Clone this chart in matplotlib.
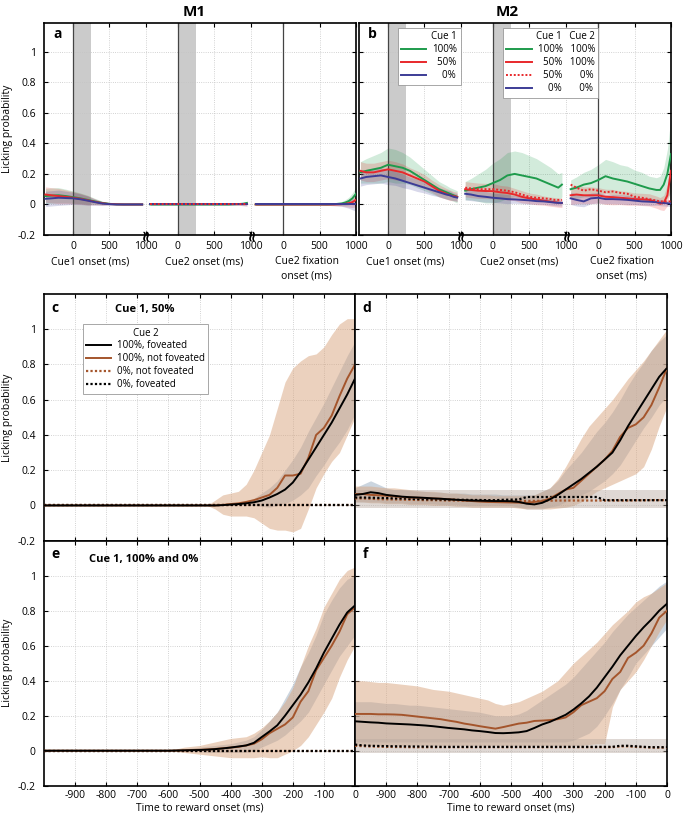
import numpy as np
import matplotlib.pyplot as plt
from matplotlib.lines import Line2D
from matplotlib.transforms import blended_transform_factory

plt.rcParams["font.family"] = ["Open Sans", "DejaVu Sans"]
plt.rcParams["font.size"] = 7
plt.rcParams["axes.unicode_minus"] = False

# ---------------- DATA: top panels (a = M1, b = M2) ----------------
# time (ms) inside each window: Cue1 onset, Cue2 onset, Cue2 fixation onset
seg_t = [-380, -300, -200, -100, 0, 100, 200, 300, 400, 500, 600, 700, 800, 850, 900, 950]
fix_t = [-380, -300, -200, -100, 0, 100, 200, 300, 400, 500, 600, 700, 800, 850, 900, 950, 1000]

# M1
m1_cue1_green = [0.055, 0.058, 0.06, 0.055, 0.048, 0.04, 0.03, 0.02, 0.01, 0.004, 0.001, 0, 0, 0, 0, 0]
m1_cue1_red = [0.065, 0.06, 0.055, 0.05, 0.044, 0.037, 0.027, 0.017, 0.008, 0.003, 0.001, 0, 0, 0, 0, 0]
m1_cue1_blue = [0.037, 0.04, 0.044, 0.042, 0.04, 0.034, 0.025, 0.015, 0.006, 0.002, 0, 0, 0, 0, 0, 0]
m1_cue1_hw = [0.05, 0.05, 0.05, 0.045, 0.04, 0.035, 0.03, 0.02, 0.012, 0.006, 0.003, 0.002, 0.002, 0.002, 0.002, 0.002]

m1_cue2_green = [0, 0, 0, 0, 0, 0, 0, 0, 0, 0, 0, 0, 0.002, 0.003, 0.005, 0.01]
m1_cue2_red = [0, 0, 0, 0, 0, 0, 0, 0, 0, 0, 0, 0, 0, 0, 0, 0]
m1_cue2_reddot = [0, 0, 0, 0, 0, 0, 0, 0, 0, 0, 0, 0, 0, 0, 0, 0]
m1_cue2_blue = [0, 0, 0, 0, 0, 0, 0, 0, 0, 0, 0, 0, 0, 0, 0, 0]
m1_cue2_hw = [0.004, 0.004, 0.004, 0.004, 0.004, 0.004, 0.004, 0.004, 0.004, 0.004, 0.004, 0.004, 0.005, 0.006, 0.008, 0.01]

m1_fix_green = [0, 0, 0, 0, 0, 0, 0, 0, 0, 0, 0, 0.002, 0.006, 0.012, 0.022, 0.04, 0.07]
m1_fix_red = [0, 0, 0, 0, 0, 0, 0, 0, 0, 0, 0, 0, 0.002, 0.004, 0.008, 0.015, 0.03]
m1_fix_reddot = [0, 0, 0, 0, 0, 0, 0, 0, 0, 0, 0, 0, 0, 0, 0, 0, 0]
m1_fix_blue = [0, 0, 0, 0, 0, 0, 0, 0, 0, 0, 0, 0, 0, 0, 0, 0, 0]
m1_fix_hw = [0.005, 0.005, 0.005, 0.005, 0.005, 0.005, 0.005, 0.005, 0.005, 0.005, 0.006, 0.008, 0.012, 0.018, 0.025, 0.035, 0.045]

# M2
m2_cue1_green = [0.21, 0.22, 0.23, 0.24, 0.26, 0.25, 0.24, 0.22, 0.19, 0.16, 0.13, 0.10, 0.08, 0.07, 0.06, 0.05]
m2_cue1_red = [0.22, 0.21, 0.21, 0.22, 0.23, 0.22, 0.21, 0.19, 0.17, 0.15, 0.12, 0.09, 0.07, 0.06, 0.055, 0.05]
m2_cue1_blue = [0.17, 0.18, 0.185, 0.19, 0.18, 0.17, 0.155, 0.14, 0.125, 0.11, 0.095, 0.08, 0.065, 0.06, 0.05, 0.045]
m2_cue1_green_hw = [0.07, 0.08, 0.09, 0.1, 0.11, 0.11, 0.1, 0.09, 0.08, 0.07, 0.06, 0.05, 0.045, 0.04, 0.04, 0.04]
m2_cue1_red_hw = [0.06, 0.06, 0.06, 0.06, 0.06, 0.06, 0.055, 0.05, 0.05, 0.045, 0.04, 0.04, 0.035, 0.035, 0.03, 0.03]
m2_cue1_blue_hw = [0.05, 0.05, 0.05, 0.05, 0.05, 0.045, 0.045, 0.04, 0.04, 0.035, 0.035, 0.03, 0.03, 0.03, 0.025, 0.025]

m2_cue2_green = [0.09, 0.1, 0.11, 0.12, 0.14, 0.16, 0.19, 0.2, 0.19, 0.18, 0.17, 0.15, 0.13, 0.12, 0.11, 0.13]
m2_cue2_red = [0.1, 0.095, 0.09, 0.088, 0.087, 0.08, 0.075, 0.065, 0.05, 0.04, 0.033, 0.025, 0.018, 0.015, 0.012, 0.01]
m2_cue2_reddot = [0.11, 0.105, 0.1, 0.1, 0.1, 0.095, 0.09, 0.08, 0.065, 0.05, 0.044, 0.04, 0.035, 0.03, 0.03, 0.03]
m2_cue2_blue = [0.07, 0.065, 0.055, 0.05, 0.044, 0.04, 0.035, 0.033, 0.03, 0.027, 0.022, 0.02, 0.015, 0.012, 0.01, 0.01]
m2_cue2_green_hw = [0.06, 0.07, 0.09, 0.11, 0.13, 0.14, 0.15, 0.15, 0.15, 0.14, 0.13, 0.12, 0.11, 0.1, 0.09, 0.08]
m2_cue2_red_hw = [0.05, 0.05, 0.05, 0.05, 0.05, 0.045, 0.045, 0.04, 0.04, 0.035, 0.035, 0.03, 0.03, 0.03, 0.03, 0.03]
m2_cue2_blue_hw = [0.04, 0.04, 0.035, 0.035, 0.03, 0.03, 0.03, 0.025, 0.025, 0.025, 0.02, 0.02, 0.02, 0.02, 0.02, 0.02]

m2_fix_green = [0.1, 0.11, 0.13, 0.14, 0.16, 0.185, 0.17, 0.16, 0.15, 0.135, 0.12, 0.105, 0.095, 0.095, 0.13, 0.2, 0.33]
m2_fix_red = [0.06, 0.065, 0.06, 0.06, 0.06, 0.05, 0.048, 0.044, 0.04, 0.035, 0.033, 0.03, 0.015, 0.005, 0.01, 0.06, 0.22]
m2_fix_reddot = [0.13, 0.11, 0.09, 0.1, 0.09, 0.08, 0.085, 0.076, 0.07, 0.05, 0.044, 0.035, 0.025, 0.02, 0.02, 0.02, 0.02]
m2_fix_blue = [0.04, 0.03, 0.02, 0.04, 0.044, 0.035, 0.035, 0.033, 0.03, 0.025, 0.02, 0.018, 0.015, 0.012, 0.01, 0.008, 0.006]
m2_fix_green_hw = [0.06, 0.07, 0.08, 0.09, 0.1, 0.11, 0.11, 0.1, 0.1, 0.09, 0.09, 0.08, 0.08, 0.09, 0.11, 0.16, 0.25]
m2_fix_red_hw = [0.06, 0.06, 0.055, 0.055, 0.05, 0.05, 0.05, 0.045, 0.045, 0.04, 0.04, 0.04, 0.04, 0.04, 0.05, 0.07, 0.1]
m2_fix_blue_hw = [0.04, 0.04, 0.035, 0.035, 0.035, 0.03, 0.03, 0.03, 0.03, 0.025, 0.025, 0.025, 0.02, 0.02, 0.02, 0.02, 0.02]

# ---------------- DATA: bottom panels (c-f), time to reward ----------------
t = [-1000, -975, -950, -925, -900, -875, -850, -825, -800, -775,
     -750, -725, -700, -675, -650, -625, -600, -575, -550, -525,
     -500, -475, -450, -425, -400, -375, -350, -325, -300, -275,
     -250, -225, -200, -175, -150, -125, -100, -75, -50, -25, 0]

# c: M1, Cue 1 50%
c_black = [0.0] * 23 + [0.002, 0.005, 0.008, 0.012, 0.018, 0.028, 0.045, 0.065, 0.09, 0.13, 0.19, 0.26, 0.33, 0.40, 0.47, 0.55, 0.63, 0.72]
c_black_lo = [0.0] * 23 + [0, 0, 0, 0, 0, -0.005, -0.01, 0.0, 0.01, 0.03, 0.06, 0.1, 0.17, 0.23, 0.3, 0.36, 0.43, 0.52]
c_black_hi = [0.0] * 23 + [0.005, 0.01, 0.015, 0.025, 0.04, 0.07, 0.1, 0.14, 0.2, 0.26, 0.33, 0.42, 0.5, 0.58, 0.67, 0.76, 0.85, 0.93]
c_brown = [0.0] * 23 + [0.003, 0.008, 0.012, 0.02, 0.03, 0.045, 0.06, 0.1, 0.17, 0.17, 0.18, 0.27, 0.40, 0.44, 0.51, 0.62, 0.72, 0.80]
c_brown_lo = [0.0] * 22 + [-0.02, -0.05, -0.06, -0.06, -0.06, -0.07, -0.1, -0.13, -0.14, -0.14, -0.15, -0.13, -0.02, 0.1, 0.18, 0.25, 0.3, 0.4, 0.5]
c_brown_hi = [0.0] * 22 + [0.03, 0.06, 0.07, 0.08, 0.12, 0.2, 0.3, 0.4, 0.55, 0.7, 0.78, 0.82, 0.85, 0.86, 0.9, 0.97, 1.03, 1.06, 1.06]
c_black_dot = [0.0] * 41
c_brown_dot = [0.0] * 41

# d: M2, Cue 1 50%
d_black = [0.06, 0.065, 0.075, 0.07, 0.06, 0.055, 0.05, 0.047, 0.045, 0.043,
           0.04, 0.038, 0.035, 0.032, 0.03, 0.028, 0.027, 0.026, 0.025, 0.025,
           0.024, 0.02, 0.01, 0.006, 0.015, 0.035, 0.06, 0.09, 0.12, 0.15,
           0.185, 0.22, 0.26, 0.3, 0.37, 0.45, 0.52, 0.59, 0.66, 0.73, 0.78]
d_black_lo = [0.02, 0.02, 0.02, 0.02, 0.015, 0.015, 0.015, 0.01, 0.01, 0.01,
              0.01, 0.005, 0.005, 0.005, 0.0, 0.0, 0.0, 0.0, 0.0, 0.0,
              0.0, -0.01, -0.02, -0.02, -0.02, -0.01, 0.0, 0.02, 0.04, 0.06,
              0.08, 0.11, 0.14, 0.18, 0.23, 0.3, 0.37, 0.44, 0.5, 0.57, 0.62]
d_black_hi = [0.1, 0.12, 0.14, 0.12, 0.1, 0.09, 0.09, 0.085, 0.08, 0.08,
              0.075, 0.075, 0.07, 0.07, 0.07, 0.065, 0.065, 0.065, 0.065, 0.06,
              0.06, 0.06, 0.06, 0.06, 0.08, 0.1, 0.14, 0.2, 0.25, 0.3,
              0.36, 0.42, 0.47, 0.53, 0.6, 0.68, 0.75, 0.81, 0.88, 0.93, 0.97]
d_brown = [0.065, 0.065, 0.06, 0.058, 0.055, 0.052, 0.048, 0.045, 0.044, 0.042,
           0.04, 0.038, 0.035, 0.032, 0.028, 0.025, 0.022, 0.02, 0.019, 0.018,
           0.017, 0.016, 0.015, 0.02, 0.025, 0.04, 0.065, 0.09, 0.1, 0.14,
           0.18, 0.22, 0.26, 0.31, 0.39, 0.44, 0.46, 0.5, 0.57, 0.67, 0.78]
d_brown_lo = [0.02, 0.02, 0.015, 0.015, 0.01, 0.01, 0.01, 0.005, 0.005, 0.005,
              0.0, 0.0, 0.0, -0.005, -0.005, -0.01, -0.01, -0.01, -0.01, -0.01,
              -0.01, -0.015, -0.02, -0.02, -0.02, -0.02, -0.015, -0.01, 0.0, 0.02,
              0.05, 0.08, 0.1, 0.12, 0.14, 0.16, 0.18, 0.22, 0.32, 0.45, 0.56]
d_brown_hi = [0.11, 0.11, 0.11, 0.105, 0.1, 0.1, 0.095, 0.09, 0.085, 0.08,
              0.08, 0.075, 0.07, 0.07, 0.065, 0.06, 0.06, 0.06, 0.055, 0.055,
              0.055, 0.055, 0.055, 0.06, 0.08, 0.1, 0.15, 0.22, 0.3, 0.38,
              0.45, 0.5, 0.55, 0.6, 0.66, 0.72, 0.77, 0.82, 0.88, 0.94, 1.0]
d_black_dot = [0.045, 0.045, 0.044, 0.043, 0.042, 0.04, 0.04, 0.038, 0.036, 0.035,
               0.035, 0.034, 0.033, 0.032, 0.032, 0.031, 0.031, 0.03, 0.03, 0.032,
               0.033, 0.034, 0.048, 0.048, 0.048, 0.048, 0.048, 0.048, 0.048, 0.048,
               0.048, 0.048, 0.03, 0.03, 0.03, 0.03, 0.03, 0.03, 0.03, 0.03, 0.03]
d_brown_dot = [0.04, 0.04, 0.038, 0.036, 0.035, 0.034, 0.033, 0.032, 0.031, 0.03,
               0.03, 0.029, 0.028, 0.028, 0.027, 0.027, 0.026, 0.026, 0.025, 0.025,
               0.025, 0.025, 0.026, 0.026, 0.027, 0.027, 0.028, 0.028, 0.028, 0.028,
               0.028, 0.028, 0.028, 0.028, 0.028, 0.028, 0.029, 0.029, 0.03, 0.03, 0.03]
d_dot_lo = [-0.015] * 41
d_dot_hi = [0.085] * 41

# e: M1, Cue 1 100% and 0%
e_black = [0.0] * 17 + [0.001, 0.002, 0.003, 0.004, 0.006, 0.009, 0.013, 0.018, 0.024, 0.03, 0.045, 0.078,
                        0.11, 0.145, 0.2, 0.26, 0.32, 0.39, 0.47, 0.56, 0.64, 0.72, 0.79, 0.83]
e_black_lo = [0.0] * 17 + [0, 0, -0.005, -0.005, -0.01, -0.01, -0.01, -0.01, -0.01, -0.01, 0.0, 0.02,
                           0.04, 0.06, 0.09, 0.13, 0.17, 0.22, 0.3, 0.38, 0.46, 0.54, 0.6, 0.66]
e_black_hi = [0.0] * 17 + [0.005, 0.01, 0.015, 0.02, 0.025, 0.03, 0.035, 0.04, 0.05, 0.06, 0.08, 0.12,
                           0.17, 0.22, 0.3, 0.38, 0.48, 0.56, 0.66, 0.78, 0.86, 0.93, 0.98, 1.0]
e_brown = [0.0] * 17 + [0.001, 0.002, 0.004, 0.005, 0.007, 0.01, 0.014, 0.018, 0.022, 0.03, 0.04, 0.065,
                        0.1, 0.125, 0.15, 0.19, 0.28, 0.34, 0.46, 0.53, 0.6, 0.68, 0.78, 0.82]
e_brown_lo = [0.0] * 17 + [-0.005, -0.01, -0.015, -0.02, -0.025, -0.03, -0.035, -0.04, -0.04, -0.04, -0.04, -0.035,
                           -0.04, -0.04, -0.02, 0.0, 0.03, 0.08, 0.15, 0.22, 0.3, 0.42, 0.52, 0.6]
e_brown_hi = [0.0] * 17 + [0.01, 0.02, 0.025, 0.03, 0.04, 0.05, 0.06, 0.07, 0.075, 0.08, 0.1, 0.13,
                           0.17, 0.22, 0.28, 0.36, 0.48, 0.6, 0.7, 0.82, 0.9, 0.98, 1.03, 1.05]
e_black_dot = [0.0] * 41
e_brown_dot = [0.0] * 41

# f: M2, Cue 1 100% and 0%
f_black = [0.168, 0.165, 0.162, 0.16, 0.156, 0.154, 0.152, 0.15, 0.147, 0.144,
           0.14, 0.135, 0.13, 0.126, 0.122, 0.116, 0.112, 0.107, 0.101, 0.1,
           0.102, 0.105, 0.112, 0.13, 0.15, 0.165, 0.185, 0.205, 0.235, 0.27,
           0.31, 0.36, 0.42, 0.48, 0.545, 0.6, 0.655, 0.705, 0.75, 0.8, 0.84]
f_black_lo = [0.05] * 28 + [0.06, 0.08, 0.1, 0.14, 0.2, 0.27, 0.35, 0.42, 0.5, 0.55, 0.6, 0.65, 0.7]
f_black_hi = [0.28, 0.28, 0.28, 0.275, 0.27, 0.27, 0.265, 0.26, 0.26, 0.255,
              0.25, 0.245, 0.24, 0.235, 0.23, 0.225, 0.22, 0.21, 0.2, 0.2,
              0.2, 0.21, 0.23, 0.26, 0.29, 0.32, 0.35, 0.38, 0.42, 0.47,
              0.52, 0.57, 0.62, 0.68, 0.73, 0.78, 0.82, 0.86, 0.9, 0.94, 0.97]
f_brown = [0.21, 0.21, 0.21, 0.208, 0.208, 0.207, 0.205, 0.2, 0.195, 0.19,
           0.185, 0.18, 0.172, 0.165, 0.155, 0.148, 0.14, 0.133, 0.126, 0.135,
           0.145, 0.155, 0.16, 0.17, 0.172, 0.175, 0.18, 0.19, 0.22, 0.26,
           0.28, 0.3, 0.34, 0.41, 0.45, 0.53, 0.56, 0.6, 0.67, 0.76, 0.8]
f_brown_lo = [0.03] * 28 + [0.03, 0.03, 0.035, 0.04, 0.04, 0.25, 0.35, 0.4, 0.45, 0.52, 0.6, 0.68, 0.75]
f_brown_hi = [0.4, 0.4, 0.395, 0.39, 0.39, 0.385, 0.38, 0.375, 0.37, 0.36,
              0.35, 0.345, 0.34, 0.33, 0.32, 0.31, 0.3, 0.29, 0.27, 0.26,
              0.27, 0.28, 0.3, 0.32, 0.34, 0.37, 0.4, 0.45, 0.5, 0.54,
              0.58, 0.62, 0.67, 0.72, 0.76, 0.8, 0.85, 0.88, 0.9, 0.93, 0.96]
f_black_dot = [0.035, 0.03, 0.028, 0.027, 0.026, 0.025, 0.025, 0.024, 0.024, 0.023,
               0.023, 0.022, 0.022, 0.022, 0.022, 0.022, 0.022, 0.022, 0.022, 0.022,
               0.022, 0.022, 0.022, 0.022, 0.022, 0.022, 0.022, 0.022, 0.022, 0.022,
               0.022, 0.022, 0.022, 0.022, 0.028, 0.028, 0.025, 0.022, 0.02, 0.02, 0.02]
f_brown_dot = [0.028, 0.026, 0.024, 0.023, 0.022, 0.021, 0.021, 0.02, 0.02, 0.02,
               0.02, 0.02, 0.02, 0.02, 0.02, 0.02, 0.02, 0.02, 0.02, 0.02,
               0.02, 0.02, 0.02, 0.02, 0.02, 0.02, 0.02, 0.02, 0.02, 0.02,
               0.02, 0.02, 0.02, 0.02, 0.025, 0.025, 0.022, 0.02, 0.018, 0.018, 0.018]
f_dot_lo = [-0.015] * 41
f_dot_hi = [0.065] * 41

y_ticks = [-0.2, 0, 0.2, 0.4, 0.6, 0.8, 1]
y_ticklabels = ["-0.2", "0", "0.2", "0.4", "0.6", "0.8", "1"]
bottom_ticks = [-900, -800, -700, -600, -500, -400, -300, -200, -100, 0]
bottom_ticklabels = ["-900", "-800", "-700", "-600", "-500", "-400", "-300", "-200", "-100", "0"]
seg_ticks = [0, 500, 1000]
seg_names = ["Cue1 onset (ms)", "Cue2 onset (ms)", "Cue2 fixation\nonset (ms)"]

# ---------------- STYLE ----------------
GREEN = "#1e9b4c"
RED = "#e8282b"
BLUE = "#3c3c96"
BROWN = "#a4552c"
BAND_BLACK = "#a9b9ca"
BAND_BROWN = "#d8a47e"
DOT = (0, (1, 1))
FS = 7.5

# time-window layout on the single x axis of panels a/b
seg_origin = [400, 1840, 3290]
x_end = 4290

fig = plt.figure(figsize=(6.85, 8.14), dpi=100)
ax_a = fig.add_axes([44 / 685, 1 - 235 / 814, 312 / 685, 212.3 / 814])
ax_b = fig.add_axes([359 / 685, 1 - 235 / 814, 312 / 685, 212.3 / 814])
ax_c = fig.add_axes([44 / 685, 1 - 540.7 / 814, 311 / 685, 246.7 / 814])
ax_d = fig.add_axes([355 / 685, 1 - 540.7 / 814, 312 / 685, 246.7 / 814])
ax_e = fig.add_axes([44 / 685, 1 - 785.7 / 814, 311 / 685, 245 / 814])
ax_f = fig.add_axes([355 / 685, 1 - 785.7 / 814, 312 / 685, 245 / 814])


def frame(ax):
    for s in ax.spines.values():
        s.set_linewidth(1.2)
    ax.tick_params(direction="in", length=3, width=0.8, top=True, right=True, labelsize=FS)
    ax.tick_params(axis="y", pad=6)
    ax.grid(True, linestyle=":", color="#c4c4c4", linewidth=0.6)
    ax.set_axisbelow(True)


def draw_series(ax, origin, tt, y, hw, color, ls="-"):
    x = origin + np.array(tt)
    y = np.array(y)
    if hw is not None:
        hw = np.array(hw)
        ax.fill_between(x, y - hw, y + hw, color=color, alpha=0.2, lw=0, zorder=1)
    ax.plot(x, y, color=color, lw=1.4, ls=ls, zorder=3)


def top_axis(ax, letter, title, title_x):
    frame(ax)
    ax.set_xlim(0, x_end)
    ax.set_ylim(-0.2, 1.19)
    ax.set_yticks(y_ticks)
    ax.set_yticklabels(y_ticklabels)
    ticks = [o + v for o in seg_origin for v in seg_ticks]
    ax.set_xticks(ticks)
    ax.set_xticklabels([str(v) for o in seg_origin for v in seg_ticks])
    ax.tick_params(axis="x", pad=4.5)
    for i, o in enumerate(seg_origin):
        ax.axvline(o, color="#444444", lw=0.9, zorder=2)
        if i < 2:
            ax.axvspan(o, o + 250, color="#cbcbcb", lw=0, zorder=0.5)
    tr = blended_transform_factory(ax.transData, ax.transAxes)
    for o, name, off in zip(seg_origin, seg_names, [240, 360, 320]):
        ax.text(o + off, -0.1, name, transform=tr, ha="center", va="top",
                fontsize=FS, linespacing=1.35)
    for o in seg_origin[1:]:
        ax.text(o - 440, 0.0, "\u2248", transform=tr, rotation=90, ha="center",
                va="center", fontsize=11, fontweight="bold", family="DejaVu Sans", zorder=5)
    ax.text(0.03, 0.945, letter, transform=ax.transAxes, fontsize=10,
            fontweight="bold", va="center")
    ax.text(title_x, 1.05, title, transform=ax.transAxes, fontsize=11,
            fontweight="bold", ha="center", va="center")


# ---- panel a (M1)
top_axis(ax_a, "a", "M1", 0.48)
draw_series(ax_a, seg_origin[0], seg_t, m1_cue1_green, m1_cue1_hw, GREEN)
draw_series(ax_a, seg_origin[0], seg_t, m1_cue1_red, m1_cue1_hw, RED)
draw_series(ax_a, seg_origin[0], seg_t, m1_cue1_blue, m1_cue1_hw, BLUE)
draw_series(ax_a, seg_origin[1], seg_t, m1_cue2_green, m1_cue2_hw, GREEN)
draw_series(ax_a, seg_origin[1], seg_t, m1_cue2_red, m1_cue2_hw, RED)
draw_series(ax_a, seg_origin[1], seg_t, m1_cue2_blue, m1_cue2_hw, BLUE)
draw_series(ax_a, seg_origin[1], seg_t, m1_cue2_reddot, None, RED, DOT)
draw_series(ax_a, seg_origin[2], fix_t, m1_fix_green, m1_fix_hw, GREEN)
draw_series(ax_a, seg_origin[2], fix_t, m1_fix_red, m1_fix_hw, RED)
draw_series(ax_a, seg_origin[2], fix_t, m1_fix_reddot, None, RED, DOT)
draw_series(ax_a, seg_origin[2], fix_t, m1_fix_blue, m1_fix_hw, BLUE)
ax_a.set_ylabel("Licking probability", fontsize=FS)
ax_a.yaxis.set_label_coords(-0.1, 0.5)

# ---- panel b (M2)
top_axis(ax_b, "b", "M2", 0.475)
ax_b.tick_params(labelleft=False)
draw_series(ax_b, seg_origin[0], seg_t, m2_cue1_green, m2_cue1_green_hw, GREEN)
draw_series(ax_b, seg_origin[0], seg_t, m2_cue1_red, m2_cue1_red_hw, RED)
draw_series(ax_b, seg_origin[0], seg_t, m2_cue1_blue, m2_cue1_blue_hw, BLUE)
draw_series(ax_b, seg_origin[1], seg_t, m2_cue2_green, m2_cue2_green_hw, GREEN)
draw_series(ax_b, seg_origin[1], seg_t, m2_cue2_red, m2_cue2_red_hw, RED)
draw_series(ax_b, seg_origin[1], seg_t, m2_cue2_blue, m2_cue2_blue_hw, BLUE)
draw_series(ax_b, seg_origin[1], seg_t, m2_cue2_reddot, None, RED, DOT)
draw_series(ax_b, seg_origin[2], fix_t, m2_fix_green, m2_fix_green_hw, GREEN)
draw_series(ax_b, seg_origin[2], fix_t, m2_fix_red, m2_fix_red_hw, RED)
draw_series(ax_b, seg_origin[2], fix_t, m2_fix_blue, m2_fix_blue_hw, BLUE)
draw_series(ax_b, seg_origin[2], fix_t, m2_fix_reddot, None, RED, DOT)

leg_kw = dict(loc="upper left", fontsize=7, title_fontsize=7, frameon=True,
              fancybox=False, edgecolor="#999999", framealpha=1,
              borderpad=0.35, labelspacing=0.2, handletextpad=0.6, borderaxespad=0)
h1 = [Line2D([], [], color=GREEN, lw=1.4), Line2D([], [], color=RED, lw=1.4),
      Line2D([], [], color=BLUE, lw=1.4)]
leg1 = ax_b.legend(h1, ["100%", "  50%", "    0%"], title="Cue 1",
                   bbox_to_anchor=(0.124, 0.975), handlelength=2.6,
                   alignment="right", **leg_kw)
leg1.get_frame().set_linewidth(0.6)
ax_b.add_artist(leg1)
h2 = [Line2D([], [], color=GREEN, lw=1.4), Line2D([], [], color=RED, lw=1.4),
      Line2D([], [], color=RED, lw=1.4, ls=DOT), Line2D([], [], color=BLUE, lw=1.4)]
leg2 = ax_b.legend(h2, ["100%   100%", "  50%   100%", "  50%       0%", "    0%       0%"],
                   title="Cue 1   Cue 2", bbox_to_anchor=(0.4615, 0.975),
                   handlelength=2.6, alignment="right", **leg_kw)
leg2.get_frame().set_linewidth(0.6)


# ---------------- bottom panels ----------------
def bottom_axis(ax, letter, show_x, show_y):
    frame(ax)
    ax.set_xlim(-1000, 0)
    ax.set_ylim(-0.2, 1.2)
    ax.set_yticks(y_ticks)
    ax.set_yticklabels(y_ticklabels)
    ax.set_xticks(bottom_ticks)
    ax.set_xticklabels(bottom_ticklabels)
    ax.tick_params(axis="x", pad=3)
    if not show_x:
        ax.tick_params(labelbottom=False)
    else:
        ax.set_xlabel("Time to reward onset (ms)", fontsize=FS, labelpad=1)
    if not show_y:
        ax.tick_params(labelleft=False)
    else:
        ax.set_ylabel("Licking probability", fontsize=FS)
        ax.yaxis.set_label_coords(-0.1, 0.5)
    ax.text(0.025, 0.945, letter, transform=ax.transAxes, fontsize=10,
            fontweight="bold", va="center")


def draw_bottom(ax, blk, blk_lo, blk_hi, brn, brn_lo, brn_hi, blk_dot, brn_dot,
                dot_lo=None, dot_hi=None):
    ax.fill_between(t, blk_lo, blk_hi, color=BAND_BLACK, alpha=0.6, lw=0, zorder=1)
    ax.fill_between(t, brn_lo, brn_hi, color=BAND_BROWN, alpha=0.5, lw=0, zorder=1.1)
    if dot_lo is not None:
        ax.fill_between(t, dot_lo, dot_hi, color="#b9aaa0", alpha=0.45, lw=0, zorder=1.2)
    ax.plot(t, brn_dot, color=BROWN, lw=1.6, ls=DOT, zorder=3)
    ax.plot(t, blk_dot, color="black", lw=1.6, ls=DOT, zorder=3.1)
    ax.plot(t, brn, color=BROWN, lw=1.4, zorder=3.2)
    ax.plot(t, blk, color="black", lw=1.4, zorder=3.3)


bottom_axis(ax_c, "c", False, True)
draw_bottom(ax_c, c_black, c_black_lo, c_black_hi, c_brown, c_brown_lo, c_brown_hi,
            c_black_dot, c_brown_dot)
ax_c.text(0.228, 0.938, "Cue 1, 50%", transform=ax_c.transAxes, fontsize=8,
          fontweight="bold", va="center")
hc = [Line2D([], [], color="black", lw=1.4), Line2D([], [], color=BROWN, lw=1.4),
      Line2D([], [], color=BROWN, lw=1.6, ls=DOT), Line2D([], [], color="black", lw=1.6, ls=DOT)]
legc = ax_c.legend(hc, ["100%, foveated", "100%, not foveated", "0%, not foveated", "0%, foveated"],
                   title="Cue 2", bbox_to_anchor=(0.124, 0.878), handlelength=2.6,
                   **leg_kw)
legc.get_frame().set_linewidth(0.6)

bottom_axis(ax_d, "d", False, False)
draw_bottom(ax_d, d_black, d_black_lo, d_black_hi, d_brown, d_brown_lo, d_brown_hi,
            d_black_dot, d_brown_dot, d_dot_lo, d_dot_hi)

bottom_axis(ax_e, "e", True, True)
draw_bottom(ax_e, e_black, e_black_lo, e_black_hi, e_brown, e_brown_lo, e_brown_hi,
            e_black_dot, e_brown_dot)
ax_e.text(0.146, 0.924, "Cue 1, 100% and 0%", transform=ax_e.transAxes, fontsize=8,
          fontweight="bold", va="center")

bottom_axis(ax_f, "f", True, False)
draw_bottom(ax_f, f_black, f_black_lo, f_black_hi, f_brown, f_brown_lo, f_brown_hi,
            f_black_dot, f_brown_dot, f_dot_lo, f_dot_hi)

fig.savefig("out.png", dpi=100)
